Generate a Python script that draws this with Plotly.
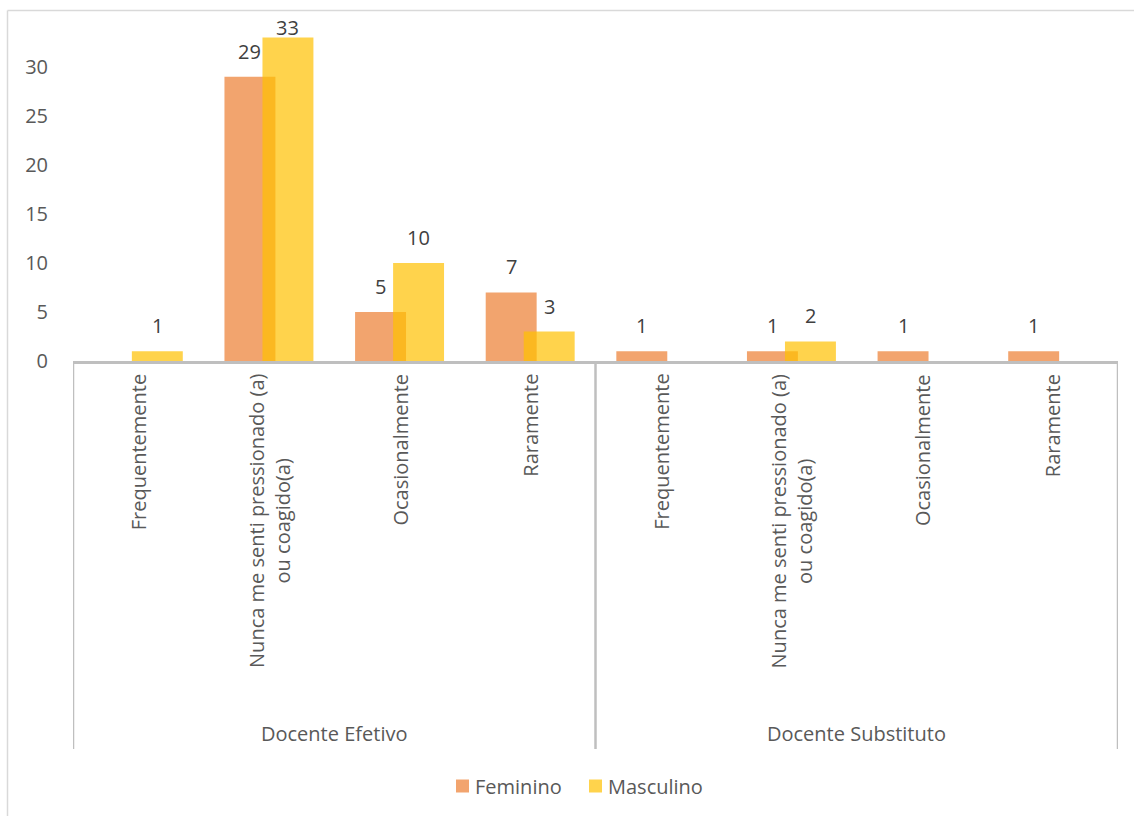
import plotly.graph_objects as go

# ---- data -------------------------------------------------------------
grupos = ["Docente Efetivo", "Docente Substituto"]
categorias = [
    "Frequentemente",
    "Nunca me senti pressionado (a)<br>ou coagido(a)",
    "Ocasionalmente",
    "Raramente",
]
series = ["Feminino", "Masculino"]
feminino = [None, 29, 5, 7, 1, 1, 1, 1]
masculino = [1, 33, 10, 3, None, 2, None, None]

# ---- layout constants ---------------------------------------------------
W, H = 1134, 816
ML, MR, MT, MB = 73, 16, 18, 455
PW, PH = W - ML - MR, H - MT - MB
FONT = "Open Sans"
FS = 20
GREY_TXT = "#595959"
AXIS_GREY = "#BFBFBF"
CORES = ["rgba(237,125,49,0.7)", "rgba(255,192,0,0.7)"]
YMAX = 35
LABEL_ROOM = 3.6   # value labels are kept inside the plotting area

BAR_W = 0.39
SHIFT = 0.1455

n_cat = len(categorias) * len(grupos)
xpos = list(range(n_cat))
rotulos = categorias * len(grupos)


def px_x(p):
    return (p - ML) / PW


def px_y(p):
    return (H - MB - p) / PH


fig = go.Figure()
for nome, valores, cor, d in zip(series, (feminino, masculino), CORES, (-SHIFT, SHIFT)):
    fig.add_trace(go.Bar(
        name=nome, x=[i + d for i in xpos], y=valores, width=BAR_W,
        marker=dict(color=cor, line=dict(width=0)), showlegend=False,
    ))

annotations = []
# value labels above each bar
for valores, d in ((feminino, -SHIFT), (masculino, SHIFT)):
    for i, v in zip(xpos, valores):
        if v is None:
            continue
        annotations.append(dict(
            x=i + d, y=min(v, YMAX - LABEL_ROOM), xref="x", yref="y",
            text=str(v), showarrow=False,
            xanchor="center", yanchor="bottom", yshift=10,
            font=dict(family=FONT, size=FS, color="#404040"),
        ))

# rotated category labels under the axis
for i, lab in zip(xpos, rotulos):
    annotations.append(dict(
        x=i, y=0, xref="x", yref="paper", text=lab, showarrow=False,
        textangle=-90, xanchor="center", yanchor="top", yshift=-11,
        align="center", font=dict(family=FONT, size=FS, color=GREY_TXT),
    ))

# group labels
n_in = len(categorias)
for g, nome in enumerate(grupos):
    centro = g * n_in + (n_in - 1) / 2
    annotations.append(dict(
        x=centro, y=px_y(733), xref="x", yref="paper", text=nome,
        showarrow=False, xanchor="center", yanchor="middle",
        font=dict(family=FONT, size=FS, color=GREY_TXT),
    ))

shapes = []
# group dividers
for g in range(len(grupos) + 1):
    xb = g * n_in - 0.5
    shapes.append(dict(
        type="line", xref="x", yref="paper", x0=xb, x1=xb,
        y0=0, y1=px_y(749), line=dict(color=AXIS_GREY, width=2.5),
    ))
# chart-area border
shapes.append(dict(
    type="line", xref="paper", yref="paper", x0=px_x(7.5), x1=px_x(7.5),
    y0=px_y(10.5), y1=px_y(830), line=dict(color="#D9D9D9", width=1.5),
))
shapes.append(dict(
    type="line", xref="paper", yref="paper", x0=px_x(7.5), x1=px_x(1150),
    y0=px_y(10.5), y1=px_y(10.5), line=dict(color="#D9D9D9", width=1.5),
))

# legend: colour square + series name
leg_y = 786
for nome, cor, sq_left in zip(series, CORES, (456, 589)):
    shapes.append(dict(
        type="rect", xref="paper", yref="paper",
        x0=px_x(sq_left), x1=px_x(sq_left + 13),
        y0=px_y(leg_y + 6.5), y1=px_y(leg_y - 6.5),
        fillcolor=cor, line=dict(width=0),
    ))
    annotations.append(dict(
        x=px_x(sq_left + 17), y=px_y(leg_y), xref="paper", yref="paper",
        text=nome, showarrow=False, xanchor="left", yanchor="middle",
        font=dict(family=FONT, size=FS, color=GREY_TXT),
    ))

fig.update_layout(
    width=W, height=H,
    margin=dict(l=ML, r=MR, t=MT, b=MB, autoexpand=False),
    paper_bgcolor="white", plot_bgcolor="white",
    barmode="overlay",
    font=dict(family=FONT, size=FS, color=GREY_TXT),
    showlegend=False,
    xaxis=dict(
        range=[-0.5, n_cat - 0.5], showticklabels=False, showgrid=False,
        zeroline=False, showline=True, linecolor=AXIS_GREY, linewidth=2.5,
        ticks="", fixedrange=True,
    ),
    yaxis=dict(
        range=[0, YMAX], tickvals=[0, 5, 10, 15, 20, 25, 30], showgrid=False,
        zeroline=False, showline=False, ticks="", ticklabelstandoff=24,
        tickfont=dict(family=FONT, size=FS, color=GREY_TXT),
    ),
    annotations=annotations,
    shapes=shapes,
)

fig.write_html("out.html")
